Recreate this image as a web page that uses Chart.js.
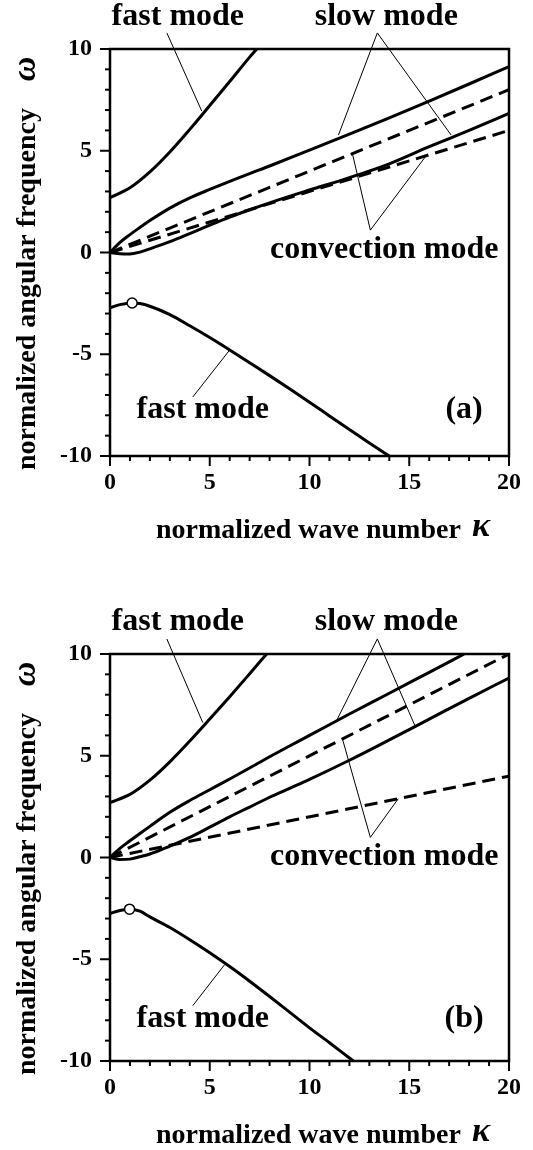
<!DOCTYPE html>
<html>
<head>
<meta charset="utf-8">
<script src="https://cdn.jsdelivr.net/npm/chart.js@4.4.0/dist/chart.umd.min.js"></script>
<style>
  html, body { margin: 0; padding: 0; background: #fff; }
  .panel { position: relative; width: 533px; height: 575px; }
</style>
</head>
<body>
<div class="panel"><canvas id="chartA" width="533" height="575"></canvas></div>
<div class="panel"><canvas id="chartB" width="533" height="575"></canvas></div>
<script>
// ---- panel (a) ----
const kFastUpA = [0, 1, 2, 3, 4, 5, 6, 7, 7.35];
const wFastUpA = [2.7, 3.18, 3.96, 4.94, 6.05, 7.22, 8.4, 9.6, 10];
const kFastLowA = [0, 0.5, 1.1, 1.5, 2, 3, 4, 5, 6, 7, 8, 9, 10, 11, 12, 13, 14];
const wFastLowA = [-2.72, -2.56, -2.48, -2.51, -2.64, -3.05, -3.6, -4.18, -4.79, -5.42, -6.05, -6.7, -7.36, -8.03, -8.7, -9.36, -10];
const kSlowA = [0, 0.5, 1, 1.5, 2, 3, 4, 5, 6, 7, 8, 10, 12, 14, 16, 18, 20];
const wSlowUpA = [0, 0.5, 0.88, 1.23, 1.57, 2.18, 2.68, 3.1, 3.5, 3.88, 4.25, 5.03, 5.82, 6.62, 7.44, 8.28, 9.13];
const wSlowLowA = [0, -0.06, -0.07, 0.02, 0.18, 0.53, 0.93, 1.34, 1.74, 2.1, 2.44, 3.07, 3.68, 4.36, 5.2, 6.0, 6.84];
const kConv = [0, 20];
const wConvUpA = [0, 8];
const wConvLowA = [0, 6];
const peakA = [1.11, -2.48];

// ---- panel (b) ----
const kFastUpB = [0, 1, 2, 3, 4, 5, 6, 7, 7.85];
const wFastUpB = [2.7, 3.1, 3.8, 4.7, 5.72, 6.8, 7.9, 9.03, 10];
const kFastLowB = [0, 0.5, 1, 1.5, 2, 3, 4, 5, 6, 7, 8, 9, 10, 11, 12, 12.2];
const wFastLowB = [-2.75, -2.6, -2.54, -2.64, -2.92, -3.44, -4.04, -4.68, -5.36, -6.08, -6.83, -7.6, -8.37, -9.1, -9.85, -10];
const kSlowUpB = [0, 0.5, 1, 1.5, 2, 3, 4, 5, 6, 7, 8, 9, 10, 12, 14, 16, 17.75];
const wSlowUpB = [0, 0.45, 0.82, 1.18, 1.53, 2.22, 2.8, 3.33, 3.86, 4.4, 4.95, 5.48, 6.0, 7.05, 8.07, 9.1, 10];
const kSlowLowB = [0, 0.5, 1, 1.5, 2, 3, 4, 5, 6, 7, 8, 9, 10, 12, 14, 16, 18, 20];
const wSlowLowB = [0, -0.1, -0.08, 0.04, 0.17, 0.56, 0.99, 1.49, 2.0, 2.48, 2.96, 3.4, 3.84, 4.78, 5.78, 6.8, 7.82, 8.82];
const wConvUpB = [0, 10];
const wConvLowB = [0, 4];
const peakB = [0.98, -2.54];

const xTicks = [0, 5, 10, 15, 20];
const yTicks = [-10, -5, 0, 5, 10];

const SERIF = '"Liberation Serif", "Times New Roman", serif';

const pts = (ks, ws) => ks.map((k, i) => ({ x: k, y: ws[i] }));

function solid(ks, ws) {
  return { data: pts(ks, ws), borderColor: '#000', borderWidth: 3, pointRadius: 0,
           cubicInterpolationMode: 'monotone', fill: false };
}
function dashed(ks, ws) {
  return { data: pts(ks, ws), borderColor: '#000', borderWidth: 3, pointRadius: 0,
           borderDash: [13, 7], fill: false };
}
function marker(p) {
  return { data: [{ x: p[0], y: p[1] }], showLine: false, pointRadius: 5,
           pointBackgroundColor: '#fff', pointBorderColor: '#000', pointBorderWidth: 1.5 };
}

// frame, minor/major ticks, leader lines, labels and axis titles
const decor = {
  id: 'decor',
  afterDatasetsDraw(chart, args, opts) {
    const { ctx, chartArea: a, scales: { x, y } } = chart;
    const px = v => x.getPixelForValue(v);
    const py = v => y.getPixelForValue(v);
    ctx.save();
    ctx.strokeStyle = '#000';
    ctx.fillStyle = '#000';

    ctx.lineWidth = 2.5;
    ctx.strokeRect(a.left, a.top, a.right - a.left, a.bottom - a.top);

    ctx.lineWidth = 2;
    for (let v = 0; v <= 20; v++) {
      const len = v % 5 === 0 ? 10 : 5;
      ctx.beginPath();
      ctx.moveTo(px(v), a.bottom);
      ctx.lineTo(px(v), a.bottom + len);
      ctx.stroke();
    }
    for (let v = -10; v <= 10; v++) {
      const len = v % 5 === 0 ? 10 : 5;
      ctx.beginPath();
      ctx.moveTo(a.left, py(v));
      ctx.lineTo(a.left - len, py(v));
      ctx.stroke();
    }

    ctx.lineWidth = 1;
    opts.leaders.forEach(([k1, w1, k2, w2]) => {
      ctx.beginPath();
      ctx.moveTo(px(k1), py(w1));
      ctx.lineTo(px(k2), py(w2));
      ctx.stroke();
    });

    ctx.font = 'bold 32px ' + SERIF;
    ctx.textAlign = 'center';
    ctx.textBaseline = 'middle';
    opts.labels.forEach(([t, k, w]) => ctx.fillText(t, px(k), py(w)));

    // x title
    ctx.textBaseline = 'alphabetic';
    ctx.textAlign = 'left';
    ctx.font = 'bold 28px ' + SERIF;
    ctx.fillText('normalized wave number', a.left + 46, a.bottom + 82);
    ctx.textAlign = 'center';
    ctx.font = 'italic bold 34px ' + SERIF;
    ctx.fillText('κ', a.left + 371, a.bottom + 80);

    // y title
    ctx.save();
    ctx.translate(a.left - 75, a.bottom + 14);
    ctx.rotate(-Math.PI / 2);
    ctx.textAlign = 'left';
    ctx.font = 'bold 28px ' + SERIF;
    ctx.fillText('normalized angular frequency', 0, 0);
    ctx.textAlign = 'center';
    ctx.font = 'italic bold 34px ' + SERIF;
    ctx.fillText('ω', (a.bottom + 14) - (a.top + 20), 0);
    ctx.restore();

    ctx.restore();
  }
};

function makeChart(id, datasets, padTop, padBottom, decorOpts) {
  return new Chart(document.getElementById(id), {
    type: 'line',
    data: { datasets },
    plugins: [decor],
    options: {
      responsive: false,
      animation: false,
      events: [],
      layout: { padding: { left: 0, right: 24, top: padTop, bottom: padBottom } },
      plugins: { legend: { display: false }, tooltip: { enabled: false }, decor: decorOpts },
      scales: {
        x: {
          type: 'linear', min: 0, max: 20,
          afterFit(s) { s.height = 40; },
          afterBuildTicks(s) { s.ticks = xTicks.map(v => ({ value: v })); },
          grid: { display: false, drawTicks: false, tickLength: 0 },
          border: { display: false },
          ticks: { padding: 12, color: '#000', font: { family: SERIF, size: 24, weight: 'bold' } }
        },
        y: {
          type: 'linear', min: -10, max: 10,
          afterFit(s) { s.width = 110; },
          afterBuildTicks(s) { s.ticks = yTicks.map(v => ({ value: v })); },
          grid: { display: false, drawTicks: false, tickLength: 0 },
          border: { display: false },
          ticks: { padding: 18, color: '#000', font: { family: SERIF, size: 24, weight: 'bold' } }
        }
      }
    }
  });
}

makeChart('chartA', [
  marker(peakA),
  solid(kFastUpA, wFastUpA),
  solid(kFastLowA, wFastLowA),
  solid(kSlowA, wSlowUpA),
  solid(kSlowA, wSlowLowA),
  dashed(kConv, wConvUpA),
  dashed(kConv, wConvLowA)
], 49, 79, {
  labels: [
    ['fast mode', 3.4, 11.57],
    ['slow mode', 13.85, 11.57],
    ['convection mode', 13.75, 0.12],
    ['fast mode', 4.65, -7.74],
    ['(a)', 17.75, -7.74]
  ],
  leaders: [
    [2.85, 10.79, 4.6, 6.95],
    [13.4, 10.79, 11.45, 5.77],
    [13.4, 10.79, 17.1, 5.77],
    [13.05, 1.1, 12.15, 4.86],
    [13.05, 1.1, 15.85, 4.76],
    [4.15, -7.1, 6.0, -4.79]
  ]
});

makeChart('chartB', [
  marker(peakB),
  solid(kFastUpB, wFastUpB),
  solid(kFastLowB, wFastLowB),
  solid(kSlowUpB, wSlowUpB),
  solid(kSlowLowB, wSlowLowB),
  dashed(kConv, wConvUpB),
  dashed(kConv, wConvLowB)
], 79, 49, {
  labels: [
    ['fast mode', 3.4, 11.58],
    ['slow mode', 13.85, 11.58],
    ['convection mode', 13.75, 0.05],
    ['fast mode', 4.65, -7.92],
    ['(b)', 17.75, -7.92]
  ],
  leaders: [
    [2.85, 10.74, 4.65, 6.63],
    [13.4, 10.74, 11.35, 6.71],
    [13.4, 10.74, 15.3, 6.44],
    [13.05, 0.99, 11.65, 5.83],
    [13.05, 0.99, 14.45, 2.89],
    [4.15, -7.28, 5.75, -5.26]
  ]
});
</script>
</body>
</html>
